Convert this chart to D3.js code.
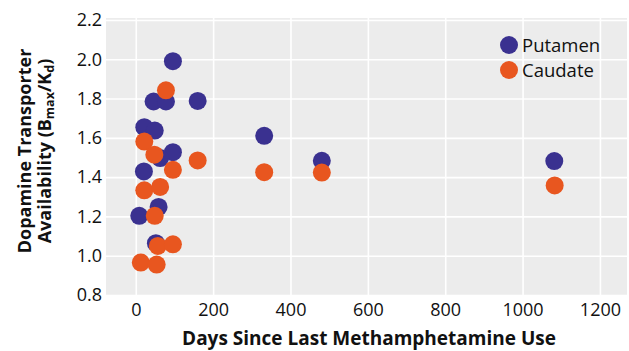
<!DOCTYPE html>
<html>
<head>
<meta charset="utf-8">
<script src="https://cdn.jsdelivr.net/npm/d3@7"></script>
<style>
  body { margin: 0; background: #fff; }
  text { font-family: 'Open Sans', 'DejaVu Sans', sans-serif; fill: #111; }
</style>
</head>
<body>
<svg id="chart" width="629" height="351"></svg>
<script>
// days since last use / availability
const putamenDays = [96, 46, 78, 160, 22, 49, 96, 63, 21, 59, 9, 52, 332, 481, 1082]
const putamenBP = [1.99, 1.785, 1.785, 1.788, 1.654, 1.637, 1.527, 1.497, 1.429, 1.248, 1.203, 1.064, 1.61, 1.483, 1.482]
const caudateDays = [78, 22, 48, 160, 96, 22, 63, 49, 57, 96, 13, 54, 332, 481, 1083]
const caudateBP = [1.842, 1.581, 1.514, 1.485, 1.437, 1.333, 1.35, 1.203, 1.05, 1.058, 0.965, 0.955, 1.425, 1.423, 1.358]
const xTicks = [0, 200, 400, 600, 800, 1000, 1200]
const yTicks = [0.8, 1.0, 1.2, 1.4, 1.6, 1.8, 2.0, 2.2]
const seriesNames = ['Putamen', 'Caudate']
const seriesColors = ['#3a3190', '#e8561f']

const panel = { left: 106, right: 627, top: 18, bottom: 295 }
const dotR = 9

const svg = d3.select('#chart')

const x = d3.scaleLinear().domain([-77, 1270]).range([panel.left, panel.right])
const y = d3.scaleLinear().domain([0.8, 2.21]).range([panel.bottom, panel.top])

// Panel background
svg.append('rect')
  .attr('x', panel.left)
  .attr('y', panel.top)
  .attr('width', panel.right - panel.left)
  .attr('height', panel.bottom - panel.top)
  .attr('fill', '#ececec')

// Grid lines
const gridX = svg.append('g')
  .attr('transform', `translate(0,${panel.bottom})`)
  .call(d3.axisBottom(x).tickValues(xTicks).tickSize(-(panel.bottom - panel.top)).tickFormat(''))
const gridY = svg.append('g')
  .attr('transform', `translate(${panel.left},0)`)
  .call(d3.axisLeft(y).tickValues(yTicks).tickSize(-(panel.right - panel.left)).tickFormat(''))
;[gridX, gridY].forEach((g) => {
  g.select('.domain').remove()
  g.selectAll('line').attr('stroke', '#ffffff').attr('stroke-width', 1.6)
})

// Axis labels
const xAxis = svg.append('g')
  .attr('transform', `translate(0,${panel.bottom})`)
  .call(d3.axisBottom(x).tickValues(xTicks).tickSize(0).tickPadding(8).tickFormat(d3.format('d')))
const yAxis = svg.append('g')
  .attr('transform', `translate(${panel.left},0)`)
  .call(d3.axisLeft(y).tickValues(yTicks).tickSize(0).tickPadding(4).tickFormat(d3.format('.1f')))
;[xAxis, yAxis].forEach((g) => {
  g.select('.domain').remove()
  g.selectAll('text')
    .style('font-size', '18px')
    .style('font-family', "'Open Sans', sans-serif")
    .attr('fill', '#111')
})

// Points: putamen first, caudate drawn on top
const series = [
  { days: putamenDays, vals: putamenBP },
  { days: caudateDays, vals: caudateBP },
]
series.forEach((s, i) => {
  svg.append('g')
    .selectAll('circle')
    .data(s.days.map((d, j) => [d, s.vals[j]]))
    .enter()
    .append('circle')
    .attr('cx', (d) => x(d[0]))
    .attr('cy', (d) => y(d[1]))
    .attr('r', dotR)
    .attr('fill', seriesColors[i])
})

// Legend
const legend = svg.append('g').attr('transform', 'translate(509,45)')
seriesNames.forEach((name, i) => {
  const row = legend.append('g').attr('transform', `translate(0,${i * 25})`)
  row.append('circle').attr('r', dotR).attr('fill', seriesColors[i])
  row.append('text')
    .attr('x', 13)
    .attr('dy', '0.36em')
    .style('font-size', '18.5px')
    .text(name)
})

// X title
svg.append('text')
  .attr('x', 369)
  .attr('y', 345)
  .attr('text-anchor', 'middle')
  .style('font-size', '19px')
  .style('font-weight', 700)
  .text('Days Since Last Methamphetamine Use')

// Y title (two lines)
const yTitle = svg.append('text')
  .attr('transform', 'translate(0,151) rotate(-90)')
  .attr('text-anchor', 'middle')
  .style('font-size', '18px')
  .style('font-weight', 700)
yTitle.append('tspan').attr('x', 0).attr('y', 31).text('Dopamine Transporter')
const line2 = yTitle.append('tspan').attr('x', 0).attr('y', 51)
line2.append('tspan').text('Availability (B')
line2.append('tspan').attr('dy', 3).style('font-size', '12.5px').text('max')
line2.append('tspan').attr('dy', -3).text('/K')
line2.append('tspan').attr('dy', 3).style('font-size', '12.5px').text('d')
line2.append('tspan').attr('dy', -3).text(')')
</script>
</body>
</html>
